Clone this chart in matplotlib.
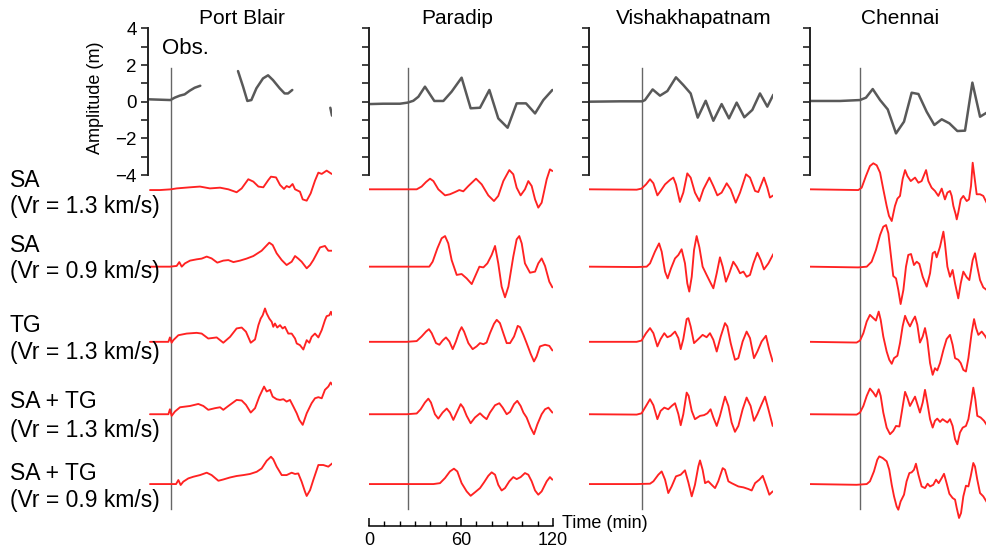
import numpy as np
import matplotlib
matplotlib.use("Agg")
import matplotlib.pyplot as plt
from matplotlib.ticker import FixedLocator, MultipleLocator

plt.rcParams['font.family'] = ['Liberation Sans', 'DejaVu Sans']
nan = np.nan

# ---------------- data (time in min, amplitude in m) ----------------
stations = ["Port Blair", "Paradip", "Vishakhapatnam", "Chennai"]
row_names = ["SA", "SA", "TG", "SA + TG", "SA + TG"]
row_speeds = ["(Vr = 1.3 km/s)", "(Vr = 0.9 km/s)", "(Vr = 1.3 km/s)",
              "(Vr = 1.3 km/s)", "(Vr = 0.9 km/s)"]
arrival_min = [15.0, 25.3, 34.7, 32.7]
amp_ticks = [-4, -2, 0, 2, 4]
amp_tick_labels = ["\u22124", "\u22122", "0", "2", "4"]
time_ticks = [0, 60, 120]

# Port Blair
pb_obs_t = [0.4, 7.6, 14.6, 17.4, 20.7, 23.9, 27.2, 30.4, 34.1, nan, 58.7, 62.0, 64.8, 67.4, 70.7, 75.0,
            78.3, 81.5, 85.9, 89.1, 91.3, 94.1, nan, 118.9, 120.0]
pb_obs_a = [0.13, 0.11, 0.09, 0.22, 0.33, 0.40, 0.60, 0.76, 0.87, nan, 1.67, 0.82, 0.04, 0.09, 0.73, 1.27,
            1.44, 1.18, 0.73, 0.45, 0.45, 0.64, nan, -0.33, -0.76]
pb_sa13_t = [1.3, 7.8, 15.0, 18.7, 27.4, 33.9, 40.4, 47.0, 52.4, 57.8, 61.1, 65.4, 68.7, 72.0, 75.2, 78.5,
             80.2, 83.5, 86.1, 88.7, 90.4, 92.2, 94.3, 95.9, 99.1, 100.9, 103.5, 106.1, 108.9, 111.1,
             113.3, 116.5, 119.8]
pb_sa13_a = [-0.04, -0.04, 0, 0.05, 0.11, 0.15, 0.05, 0.09, 0, -0.16, 0.05, 0.55, 0.42, 0.15, 0.11, 0.51,
             0.69, 0.65, 0.24, 0.02, 0.18, 0.11, 0.29, 0, -0.13, -0.55, -0.62, -0.22, 0.47, 0.91,
             0.84, 1.02, 0.84]
pb_sa09_t = [1.3, 14.3, 18.7, 20.4, 22.0, 24.1, 27.4, 31.7, 35.0, 38.3, 41.5, 45.2, 49.1, 52.4, 55.7, 60.0,
             64.3, 68.7, 74.1, 79.1, 81.3, 83.9, 87.2, 90.4, 93.7, 95.9, 98.0, 100.2, 103.5, 105.7,
             107.8, 112.2, 115.4, 117.6, 119.8]
pb_sa09_a = [0, 0, 0.04, 0.25, 0, 0.18, 0.33, 0.40, 0.44, 0.55, 0.45, 0.22, 0.33, 0.36, 0.25, 0.33,
             0.44, 0.58, 0.87, 1.31, 1.18, 0.73, 0.36, 0.09, 0.27, 0.58, 0.44, 0.27, -0.09, 0.09,
             0.36, 1.05, 1.13, 0.87, 0.87]
pb_tg13_t = [1.3, 13.3, 14.3, 15.4, 16.5, 19.8, 25.2, 31.7, 35.0, 39.3, 44.8, 49.1, 53.5, 57.8, 61.1, 63.9,
             67.0, 69.8, 72.0, 73.5, 74.8, 76.3, 77.4, 79.1, 80.7, 81.7, 82.8, 84.3, 86.1, 87.8, 89.3,
             91.5, 93.7, 95.9, 97.0, 99.1, 101.3, 103.5, 105.2, 106.7, 108.9, 111.1, 113.3, 115.4,
             116.5, 118.3, 119.3, 120.2]
pb_tg13_a = [0, 0, 0.24, -0.05, 0.09, 0.36, 0.45, 0.49, 0.45, 0.18, 0.24, -0.05, 0.27, 0.73, 0.78, 0.55,
             -0.05, 0.13, 0.91, 1.27, 1.45, 1.82, 1.55, 1.27, 1.09, 0.82, 1.00, 0.78, 0.91, 0.73, 0.82,
             0.45, 0.45, 0.18, -0.09, -0.18, -0.42, 0.09, -0.05, 0.27, 0.45, 0.24, 0.64, 1.18,
             1.40, 1.45, 1.64, 1.45]
pb_satg13_t = [1.3, 13.3, 14.3, 15.4, 17.6, 20.9, 27.4, 32.8, 36.1, 39.3, 43.7, 47.0, 49.1, 52.4, 57.8,
               61.1, 63.9, 67.0, 69.8, 72.6, 75.7, 77.4, 79.6, 81.3, 83.9, 86.1, 88.3, 90.4, 92.6, 94.8,
               97.0, 98.7, 100.9, 103.5, 106.7, 108.9, 111.1, 113.3, 115.4, 117.6, 119.1, 120.2]
pb_satg13_a = [0, 0, 0.27, -0.09, 0.15, 0.38, 0.45, 0.56, 0.45, 0.24, 0.33, 0.38, 0.24, 0.45, 0.78,
               0.75, 0.51, 0.09, 0.33, 0.96, 1.51, 1.24, 1.33, 0.96, 0.82, 0.78, 0.82, 0.69, 0.78, 0.42,
               0.05, -0.31, -0.58, 0.05, 0.60, 0.87, 0.93, 0.87, 1.33, 1.51, 1.73, 1.60]
pb_satg09_t = [1.3, 14.3, 18.3, 19.8, 21.3, 23.0, 26.3, 29.6, 33.9, 38.3, 41.5, 45.9, 49.1, 53.5, 57.8,
               62.2, 66.5, 70.9, 74.1, 77.4, 80.2, 81.7, 83.9, 87.2, 90.4, 93.7, 95.9, 98.0, 100.2,
               102.4, 103.5, 105.7, 107.8, 111.1, 114.3, 117.6, 120.2]
pb_satg09_a = [0, 0, 0, 0.22, -0.05, 0.13, 0.31, 0.40, 0.49, 0.62, 0.49, 0.18, 0.25, 0.36, 0.44,
               0.49, 0.55, 0.67, 0.85, 1.27, 1.49, 1.35, 0.95, 0.49, 0.49, 0.62, 0.55, 0.58, 0.13,
               -0.42, -0.65, -0.33, 0.22, 1.04, 1.04, 0.95, 1.13]

# Paradip
pa_obs_t = [0, 9.3, 20.2, 25.2, 28.9, 32.2, 36.5, 42.6, 48.5, 53.9, 60.4, 66.3, 72.4, 78.5, 84.3, 90.4,
            96.3, 102.4, 108.3, 113.7, 119.6]
pa_obs_a = [-0.13, -0.11, -0.11, -0.05, 0.05, 0.27, 0.82, 0.04, 0.04, 0.55, 1.31, -0.36, -0.33, 0.64,
            -0.91, -1.42, -0.09, -0.09, -0.64, 0.09, 0.64]
pa_sa13_t = [0, 20.2, 31.1, 34.3, 37.2, 39.8, 42.0, 45.2, 49.6, 52.8, 56.1, 58.9, 61.5, 64.8, 69.8, 73.5,
             77.8, 81.5, 84.3, 87.6, 91.5, 94.1, 96.3, 98.9, 101.7, 103.9, 106.1, 108.3, 110.4, 112.6,
             115.9, 118.0, 119.6]
pa_sa13_a = [0, 0, 0, 0.15, 0.40, 0.58, 0.45, 0, -0.33, -0.27, -0.15, -0.04, -0.11, 0.18, 0.58, 0.27,
             -0.33, -0.64, -0.36, 0.45, 1.05, 0.82, 0.09, -0.33, 0, 0.45, 0.18, -0.55, -1.00, -0.73,
             0.55, 1.09, 1.00]
pa_sa09_t = [0, 31.1, 39.3, 41.5, 44.6, 47.4, 49.6, 51.7, 53.9, 57.2, 60.4, 63.7, 67.0, 69.1, 72.0, 74.6,
             77.2, 80.0, 82.2, 84.3, 86.5, 88.7, 90.9, 94.1, 96.3, 98.0, 99.6, 101.7, 105.0, 108.3,
             110.4, 112.6, 114.8, 117.6, 119.6]
pa_sa09_a = [0, 0, 0, 0.27, 1.00, 1.55, 1.67, 1.27, 0.36, -0.45, -0.40, -0.64, -0.95, -0.55, 0, -0.04,
             0.18, 0.64, 1.13, 0.18, -1.09, -1.67, -1.09, 0.55, 1.49, 1.67, 1.27, 0.18, -0.33, -0.27,
             0.18, 0.45, 0.04, -0.82, -1.13]
pa_tg13_t = [0, 24.6, 31.1, 34.3, 37.2, 39.1, 40.9, 43.7, 45.9, 48.0, 50.2, 52.4, 54.6, 56.7, 58.9, 60.4,
             62.0, 64.8, 67.6, 70.2, 72.4, 74.6, 76.7, 78.9, 81.5, 83.3, 85.4, 87.6, 89.8, 92.0, 94.6,
             97.0, 98.5, 100.7, 102.8, 105.4, 107.6, 109.3, 111.5, 114.8, 117.6, 119.6]
pa_tg13_a = [0, 0, 0.04, 0.29, 0.56, 0.69, 0.47, -0.07, -0.16, 0.07, 0.24, 0.02, -0.40, 0.02, 0.56, 0.80,
             0.56, -0.07, -0.40, -0.25, -0.07, -0.13, -0.04, 0.47, 0.98, 1.20, 1.02, 0.47, -0.07, -0.07,
             0.29, 0.87, 0.80, 0.38, -0.07, -0.65, -1.07, -0.80, -0.25, -0.16, -0.22, -0.47]
pa_satg13_t = [0, 24.6, 31.1, 33.7, 36.5, 38.7, 40.4, 43.0, 45.2, 48.0, 50.7, 52.8, 55.0, 57.2, 59.8,
               61.5, 63.7, 66.3, 69.1, 72.4, 74.6, 76.7, 78.9, 82.2, 85.0, 87.2, 89.8, 92.0, 94.6, 96.7,
               98.9, 100.7, 102.8, 105.4, 107.6, 109.8, 112.6, 114.8, 117.0, 119.6]
pa_satg13_a = [0, 0, 0.04, 0.27, 0.64, 0.85, 0.64, 0, -0.24, 0.09, 0.31, 0.09, -0.31, 0.09, 0.55,
               0.36, -0.09, -0.49, -0.18, 0.05, -0.13, -0.27, 0.09, 0.49, 0.60, 0.36, 0, 0.13, 0.55, 0.73,
               0.45, 0.09, -0.18, -0.73, -1.09, -0.55, 0, 0.27, 0.36, 0.09]
pa_satg09_t = [0, 24.6, 42.0, 46.3, 49.6, 52.8, 55.4, 57.6, 60.4, 63.7, 66.3, 69.1, 72.4, 75.0, 77.8,
               80.0, 82.2, 84.3, 86.5, 88.7, 91.5, 94.1, 96.3, 98.9, 101.7, 103.9, 106.1, 108.3, 110.4,
               112.6, 115.9, 118.0, 119.6]
pa_satg09_a = [0, 0, 0, 0.05, 0.33, 0.69, 0.84, 0.69, 0.05, -0.40, -0.64, -0.45, -0.22, 0.09, 0.45,
               0.64, 0.51, -0.04, -0.35, -0.22, 0.15, 0.38, 0.27, 0.38, 0.60, 0.51, 0.15, -0.35, -0.58,
               -0.40, 0.15, 0.38, 0.24]

# Vishakhapatnam
vi_obs_t = [0, 20.2, 34.8, 36.5, 41.5, 46.3, 51.1, 56.7, 61.5, 66.3, 70.9, 76.1, 81.1, 86.5, 91.3, 96.3,
            101.3, 106.5, 111.5, 116.3, 120.2]
vi_obs_a = [0, 0.02, 0.02, 0.09, 0.67, 0.33, 0.58, 1.33, 0.91, 0.45, -0.87, 0.05, -1.04, -0.13, -0.91,
            -0.05, -0.85, -0.45, 0.45, -0.27, 0.38]
vi_sa13_t = [0, 31.1, 34.3, 37.2, 39.8, 42.0, 44.6, 46.7, 49.6, 52.8, 55.0, 56.7, 59.3, 61.5, 64.1, 66.3,
             69.1, 72.0, 74.6, 78.5, 81.1, 83.7, 86.5, 89.8, 92.4, 95.7, 98.5, 102.4, 105.0, 108.3,
             110.4, 114.1, 116.3, 118.0, 120.2]
vi_sa13_a = [0, -0.02, 0.04, 0.27, 0.55, 0.33, -0.33, -0.09, 0.27, 0.51, 0.64, 0.27, -0.69, -0.18, 0.87,
             0.64, -0.18, -0.64, 0, 0.64, 0.18, -0.33, -0.18, 0.33, 0, -0.73, -0.18, 0.82, 0.64, -0.09,
             -0.15, 0.64, 0.09, -0.45, -0.33]
vi_sa09_t = [0, 31.1, 37.6, 39.8, 43.0, 45.7, 47.4, 49.6, 51.3, 53.5, 56.1, 58.3, 60.4, 62.6, 64.1, 65.4,
             67.0, 68.5, 70.2, 72.0, 74.1, 76.7, 78.9, 81.1, 83.3, 85.4, 87.2, 89.3, 91.5, 94.1, 96.3,
             98.5, 100.7, 102.8, 105.0, 107.2, 109.8, 112.0, 114.1, 117.0, 120.2]
vi_sa09_a = [0, -0.02, 0, 0.18, 0.82, 1.27, 0.82, -0.27, -0.64, -0.09, 0.45, 0.64, 0.95, 0.18, -0.91,
             -1.36, -0.55, 0.91, 1.67, 1.05, 0, -0.45, -0.82, -1.18, -0.36, 0.51, 0, -0.82, -0.36, 0.27,
             0, -0.36, -0.27, -0.55, -0.45, 0.18, 0.76, 0.36, -0.15, 0.18, 0.69]
vi_tg13_t = [0, 31.1, 34.3, 37.2, 39.8, 42.0, 44.6, 46.7, 49.1, 51.1, 53.3, 56.1, 58.3, 59.8, 61.5, 63.7,
             64.8, 66.3, 68.5, 71.3, 74.1, 76.7, 78.9, 81.1, 83.3, 85.9, 88.7, 90.2, 92.4, 95.2, 97.4,
             100.2, 102.8, 105.0, 107.6, 109.8, 112.6, 115.4, 117.6, 119.8]
vi_tg13_a = [0, 0, 0.07, 0.47, 0.75, 0.47, -0.25, 0.15, 0.47, 0.25, 0.33, 0.56, 0.20, -0.40, 0.15, 1.24,
             1.29, 0.84, -0.07, 0.15, 0.38, 0.25, 0.47, 0.11, -0.53, 0.29, 1.02, 0.84, -0.07, -0.98,
             -0.89, 0.02, 0.56, 0.20, -0.89, -0.53, 0.02, 0.33, -0.44, -1.07]
vi_satg13_t = [0, 31.1, 34.3, 37.2, 39.8, 42.0, 44.6, 46.7, 49.1, 51.7, 53.9, 56.1, 58.3, 59.8, 61.5,
               63.7, 65.0, 67.0, 69.1, 72.4, 75.0, 77.2, 79.3, 81.1, 83.3, 85.4, 88.7, 90.9, 93.0, 95.2,
               97.4, 100.2, 102.8, 105.4, 107.6, 109.8, 112.6, 114.8, 117.0, 119.8]
vi_satg13_a = [0, -0.02, 0.05, 0.45, 0.82, 0.49, -0.27, 0.18, 0.36, 0.27, 0.45, 0.60, 0, -0.60, 0,
               1.18, 1.00, 0.18, -0.27, -0.09, -0.05, 0.05, 0.27, -0.18, -0.64, -0.09, 0.96, 0.45, -0.45,
               -0.96, -0.64, 0.27, 0.91, 0.45, -0.36, 0, 0.55, 0.96, 0.27, -0.64]
vi_satg09_t = [0, 31.1, 39.8, 42.0, 45.2, 47.4, 49.6, 51.7, 53.9, 56.7, 59.8, 62.6, 64.8, 67.0, 69.1,
               71.3, 72.4, 74.1, 75.7, 77.8, 80.0, 82.2, 84.3, 87.2, 88.7, 90.9, 93.0, 95.2, 97.4, 100.7,
               103.9, 106.1, 108.3, 111.1, 113.3, 115.4, 117.6, 119.8]
vi_satg09_a = [0, 0, 0.02, 0.15, 0.51, 0.69, 0.24, -0.49, -0.13, 0.42, 0.51, 0.75, 0.09, -0.67, -0.04,
               0.96, 1.29, 0.78, 0.05, 0.15, -0.04, -0.22, 0.15, 0.87, 0.78, 0.15, 0.05, -0.04, -0.13,
               -0.18, -0.27, -0.35, 0.05, 0.24, 0.45, -0.04, -0.58, -0.40]

# Chennai
ch_obs_t = [0.4, 19.6, 32.6, 36.5, 40.9, 45.7, 50.7, 56.1, 61.3, 66.3, 70.7, 76.1, 81.1, 85.9, 90.9, 96.1,
            101.1, 105.9, 110.9, 115.2]
ch_obs_a = [0.04, 0.04, 0.09, 0.22, 0.69, 0.09, -0.42, -1.73, -1.09, 0.49, 0.42, -0.55, -1.27, -0.96,
            -1.18, -1.60, -1.58, 1.04, -0.82, -0.60]
ch_sa13_t = [0, 31.5, 33.7, 36.5, 39.1, 41.3, 43.5, 45.7, 47.8, 50.0, 51.5, 53.3, 55.4, 57.0, 58.7, 60.4,
             62.0, 63.5, 65.7, 68.5, 70.7, 72.8, 75.7, 77.2, 79.3, 81.5, 83.7, 85.9, 87.0, 88.0, 89.6,
             91.3, 92.4, 93.5, 95.0, 95.7, 96.7, 98.3, 100.0, 102.2, 103.7, 105.0, 106.1, 107.2, 108.7,
             110.9, 113.0, 115.2, 117.0]
ch_sa13_a = [0, -0.04, 0.09, 0.73, 1.27, 1.42, 1.31, 0.91, 0, -0.91, -1.45, -1.73, -0.91, -0.51, -0.36,
             0.55, 1.05, 0.73, 0.45, 0.64, 0.36, 0.45, 1.05, 0.45, 0.09, -0.09, -0.36, 0.04, -0.27, -0.55,
             -0.18, -0.09, -0.36, -0.91, -1.36, -1.64, -1.27, -0.55, -0.36, -0.64, -0.55, 0.18, 1.45,
             0.73, -0.27, -0.27, -0.36, -0.73, -0.90]
ch_sa09_t = [0, 31.5, 37.0, 40.2, 43.0, 45.7, 47.8, 49.6, 51.1, 52.6, 54.3, 56.1, 57.6, 59.1, 60.9, 62.6,
             64.1, 65.9, 67.8, 69.6, 71.3, 73.5, 76.1, 78.3, 80.0, 81.5, 82.6, 84.8, 87.0, 88.0, 89.6,
             91.3, 93.0, 94.6, 96.7, 98.3, 100.0, 102.2, 103.9, 106.1, 107.6, 109.1, 110.9, 113.0,
             115.2, 117.0]
ch_sa09_a = [0, -0.04, 0, 0.27, 0.91, 1.73, 2.18, 2.27, 1.82, 0.73, -0.51, -0.64, -1.27, -2.04, -1.27, 0,
             0.64, 0.69, 0.09, 0.27, 0.15, -0.55, -1.09, -0.36, 0.73, 0.82, 0.51, 1.09, 1.91, 1.27, 0,
             -0.55, -0.18, -0.91, -1.73, -0.91, -0.27, -0.58, -0.73, 0.36, 0.73, 0, -0.73, -1.13,
             -1.27, -1.30]
ch_tg13_t = [0, 30.4, 32.6, 34.8, 37.0, 39.1, 41.3, 43.0, 44.8, 46.1, 47.8, 50.0, 51.7, 53.3, 54.8, 57.0,
             58.7, 60.4, 62.0, 63.5, 65.2, 67.0, 68.5, 70.0, 71.7, 73.5, 75.0, 76.5, 78.3, 80.0, 81.5,
             83.0, 84.8, 87.0, 89.1, 91.3, 93.0, 94.6, 96.7, 98.3, 100.0, 101.7, 103.3, 105.4, 107.0,
             108.3, 109.8, 112.0, 114.1, 115.7, 117.0]
ch_tg13_a = [0, -0.04, 0.07, 0.47, 1.11, 1.47, 1.29, 1.16, 1.65, 1.20, 0.29, -0.53, -0.98, -1.20, -0.89,
             -0.76, -0.07, 0.84, 1.42, 1.11, 0.84, 1.16, 1.38, 0.93, -0.04, 0.29, 0.75, 0.11, -1.16,
             -1.80, -1.44, -1.56, -1.16, -0.44, 0.15, 0.38, -0.16, -0.89, -0.98, -1.16, -1.53, -1.62,
             -0.89, 0.47, 1.24, 0.75, 0.38, 0.56, 0.33, 0.11, 0.0]
ch_satg13_t = [0, 30.4, 32.6, 34.8, 37.0, 39.1, 41.3, 43.0, 44.8, 46.1, 47.8, 50.0, 52.2, 54.3, 56.1,
               58.3, 59.8, 62.0, 63.5, 65.2, 67.0, 68.5, 70.0, 71.7, 73.5, 75.0, 76.5, 78.3, 80.0, 81.5,
               83.0, 84.8, 86.5, 88.0, 89.6, 91.3, 93.0, 94.6, 96.1, 97.8, 99.6, 101.7, 103.3, 105.4,
               106.5, 107.8, 109.1, 111.3, 113.5, 115.7, 117.0]
ch_satg13_a = [0, -0.02, 0.09, 0.45, 1.00, 1.40, 1.18, 0.96, 1.36, 1.00, 0.09, -0.73, -1.09, -0.91, -0.64,
               -0.67, 0.09, 1.22, 0.91, 0.45, 0.73, 0.96, 0.55, 0.09, 0.64, 1.33, 0.64, -0.27, -0.73,
               -0.36, -0.24, -0.42, -0.27, -0.36, -0.45, -0.27, -0.64, -1.36, -1.64, -1.00, -0.73, -0.64,
               -0.27, 0.82, 1.45, 0.82, -0.09, -0.18, -0.36, -0.64, -0.80]
ch_satg09_t = [0, 30.4, 37.0, 39.1, 41.7, 43.9, 45.2, 47.4, 50.0, 51.7, 53.3, 54.8, 56.5, 57.6, 59.1,
               61.3, 63.0, 64.8, 66.3, 67.8, 69.1, 70.7, 72.8, 75.0, 76.7, 78.3, 80.4, 82.2, 83.9, 85.9,
               87.4, 89.1, 90.9, 93.0, 94.6, 95.7, 97.2, 98.5, 100.0, 101.7, 103.3, 104.8, 106.5, 107.6,
               109.1, 110.9, 113.0, 115.7, 117.0]
ch_satg09_a = [0, -0.04, 0, 0.15, 0.69, 1.33, 1.51, 1.42, 1.24, 0.78, -0.04, -0.67, -1.22, -1.40, -0.95,
               -0.58, 0.15, 0.60, 0.64, 0.78, 1.11, 0.51, -0.13, -0.22, 0.02, -0.13, -0.04, 0.24, 0.05,
               0.33, 0.56, 0.05, -0.53, -0.76, -0.85, -1.31, -1.85, -1.58, -0.67, -0.09, -0.13, 0.42,
               1.15, 0.96, 0.24, -0.49, -0.67, -1.04, -1.20]

# ---------------- grouping for drawing ----------------
obs_series = [(pb_obs_t, pb_obs_a), (pa_obs_t, pa_obs_a), (vi_obs_t, vi_obs_a), (ch_obs_t, ch_obs_a)]
model_series = [
    [(pb_sa13_t, pb_sa13_a), (pb_sa09_t, pb_sa09_a), (pb_tg13_t, pb_tg13_a),
     (pb_satg13_t, pb_satg13_a), (pb_satg09_t, pb_satg09_a)],
    [(pa_sa13_t, pa_sa13_a), (pa_sa09_t, pa_sa09_a), (pa_tg13_t, pa_tg13_a),
     (pa_satg13_t, pa_satg13_a), (pa_satg09_t, pa_satg09_a)],
    [(vi_sa13_t, vi_sa13_a), (vi_sa09_t, vi_sa09_a), (vi_tg13_t, vi_tg13_a),
     (vi_satg13_t, vi_satg13_a), (vi_satg09_t, vi_satg09_a)],
    [(ch_sa13_t, ch_sa13_a), (ch_sa09_t, ch_sa09_a), (ch_tg13_t, ch_tg13_a),
     (ch_satg13_t, ch_satg13_a), (ch_satg09_t, ch_satg09_a)],
]

# ---------------- layout ----------------
W, H = 987, 553
fig = plt.figure(figsize=(W / 100, H / 100), dpi=100)
fig.patch.set_facecolor("white")

col_left_px = [148, 369, 589, 810]     # pixel position of t = 0 in each column
col_width_px = 184                      # 120 min
px_per_m = 18.33
zero_px = 101.7                         # pixel row of the observed-record zero line
y_top = zero_px / px_per_m
y_bot = -(H - zero_px) / px_per_m
row_offsets = [-4.78, -9.0, -13.1, -17.05, -20.86]
line_top, line_bot = 1.84, -22.22
time_axis_y = -23.15

title_x = [242, 457, 694, 900]

for i in range(4):
    ax = fig.add_axes([col_left_px[i] / W, 0, col_width_px / W, 1])
    ax.set_xlim(0, 120)
    ax.set_ylim(y_bot, y_top)
    ax.patch.set_alpha(0)
    for s in ("top", "right"):
        ax.spines[s].set_visible(False)

    # amplitude axis
    ax.spines["left"].set_bounds(-4, 4)
    ax.spines["left"].set_linewidth(1.4)
    ax.spines["left"].set_color("#222222")
    ax.yaxis.set_major_locator(FixedLocator(amp_ticks))
    ax.yaxis.set_minor_locator(FixedLocator([-3, -1, 1, 3]))
    ax.tick_params(axis="y", which="both", direction="out", length=5, width=1.2,
                   color="#222222", labelsize=13.5, pad=3)
    if i == 0:
        ax.set_yticklabels(amp_tick_labels)
    else:
        ax.set_yticklabels([])

    # time axis only under the second column
    if i == 1:
        ax.spines["bottom"].set_position(("data", time_axis_y))
        ax.spines["bottom"].set_bounds(0, 120)
        ax.spines["bottom"].set_linewidth(1.1)
        ax.xaxis.set_major_locator(FixedLocator(time_ticks))
        ax.xaxis.set_minor_locator(MultipleLocator(10))
        ax.tick_params(axis="x", which="major", direction="in", length=6, width=1.1,
                       labelsize=13, pad=4)
        ax.tick_params(axis="x", which="minor", direction="in", length=3.5, width=1.0)
    else:
        ax.spines["bottom"].set_visible(False)
        ax.set_xticks([])

    # arrival marker
    ax.plot([arrival_min[i], arrival_min[i]], [line_top, line_bot], color="#666666", lw=1.0)

    # observed record
    t, a = obs_series[i]
    ax.plot(t, a, color="#595959", lw=1.8, solid_joinstyle="round", solid_capstyle="round")

    # synthetic records
    for k, (t, a) in enumerate(model_series[i]):
        ax.plot(t, np.asarray(a) + row_offsets[k], color="#ff2222", lw=1.35,
                solid_joinstyle="round", solid_capstyle="round")

    fig.text(title_x[i] / W, 1 - 19 / H, stations[i], ha="center", va="center", fontsize=15)

# labels
fig.text(95 / W, 1 - 98 / H, "Amplitude (m)", rotation=90, ha="center", va="center", fontsize=13)
fig.text(162 / W, 1 - 48 / H, "Obs.", ha="left", va="center", fontsize=16)
fig.text(562 / W, 1 - 523 / H, "Time (min)", ha="left", va="center", fontsize=13)

name_y = [181, 246, 326, 402, 473]
speed_y = [207, 272, 352, 430, 500]
for k in range(5):
    fig.text(10 / W, 1 - name_y[k] / H, row_names[k], ha="left", va="center", fontsize=16.5)
    fig.text(10 / W, 1 - speed_y[k] / H, row_speeds[k], ha="left", va="center", fontsize=16.5)

fig.savefig("out.png", dpi=100, facecolor="white")
